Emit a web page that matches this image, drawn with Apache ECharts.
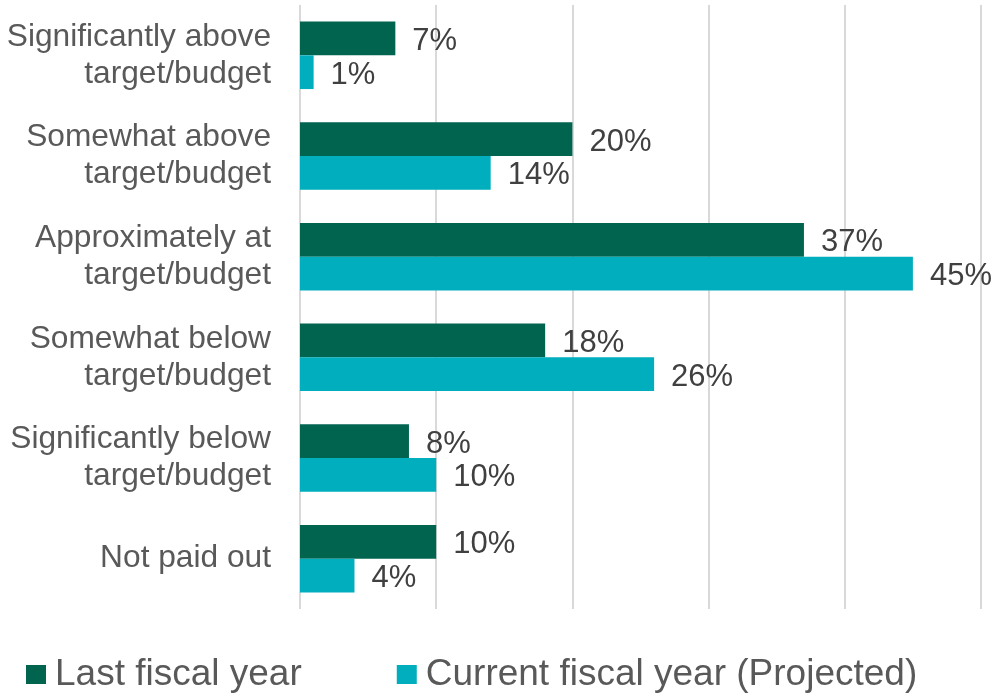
<!DOCTYPE html>
<html>
<head>
<meta charset="utf-8">
<script src="https://cdn.jsdelivr.net/npm/echarts@6/dist/echarts.min.js"></script>
<style>
  html, body { margin: 0; padding: 0; background: #fff; }
  #chart { width: 1000px; height: 695px; }
</style>
</head>
<body>
<div id="chart"></div>
<script>
// Payout level relative to target/budget, share of respondents (%)
const categories = [
  'Significantly above\ntarget/budget',
  'Somewhat above\ntarget/budget',
  'Approximately at\ntarget/budget',
  'Somewhat below\ntarget/budget',
  'Significantly below\ntarget/budget',
  'Not paid out'
];
const seriesNames = ['Last fiscal year', 'Current fiscal year (Projected)'];
const lastFiscalYear = [7, 20, 37, 18, 8, 10];
const currentFiscalYear = [1, 14, 45, 26, 10, 4];
const valueTicks = [0, 10, 20, 30, 40, 50];

const FONT = '"Liberation Sans", Arial, sans-serif';
const colors = ['#00644F', '#00AEBD'];

const chart = echarts.init(document.getElementById('chart'), null, { renderer: 'canvas' });

function barSeries(name, data, color) {
  return {
    name: name,
    type: 'bar',
    data: data,
    barGap: '0%',
    barCategoryGap: '33%',
    itemStyle: { color: color },
    label: {
      show: true,
      position: 'right',
      distance: 17,
      offset: [0, 3],
      formatter: '{c}%',
      color: '#404040',
      fontSize: 31,
      fontFamily: FONT
    },
    emphasis: { disabled: true },
    animation: false
  };
}

chart.setOption({
  animation: false,
  grid: { left: 300, right: 19, top: 5, bottom: 86, containLabel: false },
  legend: {
    data: seriesNames,
    left: 21,
    top: 651,
    itemWidth: 20,
    itemHeight: 19,
    itemGap: 95,
    icon: 'rect',
    textStyle: { color: '#595959', fontSize: 37, fontFamily: FONT, padding: [0, 0, 0, 4] },
    selectedMode: false
  },
  xAxis: {
    type: 'value',
    min: valueTicks[0],
    max: valueTicks[valueTicks.length - 1],
    interval: valueTicks[1] - valueTicks[0],
    axisLabel: { show: false },
    axisLine: { show: false },
    axisTick: { show: false },
    splitLine: { show: true, lineStyle: { color: '#D9D9D9', width: 2 } }
  },
  yAxis: {
    type: 'category',
    data: categories,
    inverse: true,
    axisLine: { show: false },
    axisTick: { show: false },
    axisLabel: {
      color: '#595959',
      fontSize: 31.7,
      lineHeight: 37,
      fontFamily: FONT,
      margin: 29,
      align: 'right',
      padding: [4, 0, 0, 0]
    }
  },
  series: [
    barSeries(seriesNames[0], lastFiscalYear, colors[0]),
    barSeries(seriesNames[1], currentFiscalYear, colors[1])
  ]
});
</script>
</body>
</html>
